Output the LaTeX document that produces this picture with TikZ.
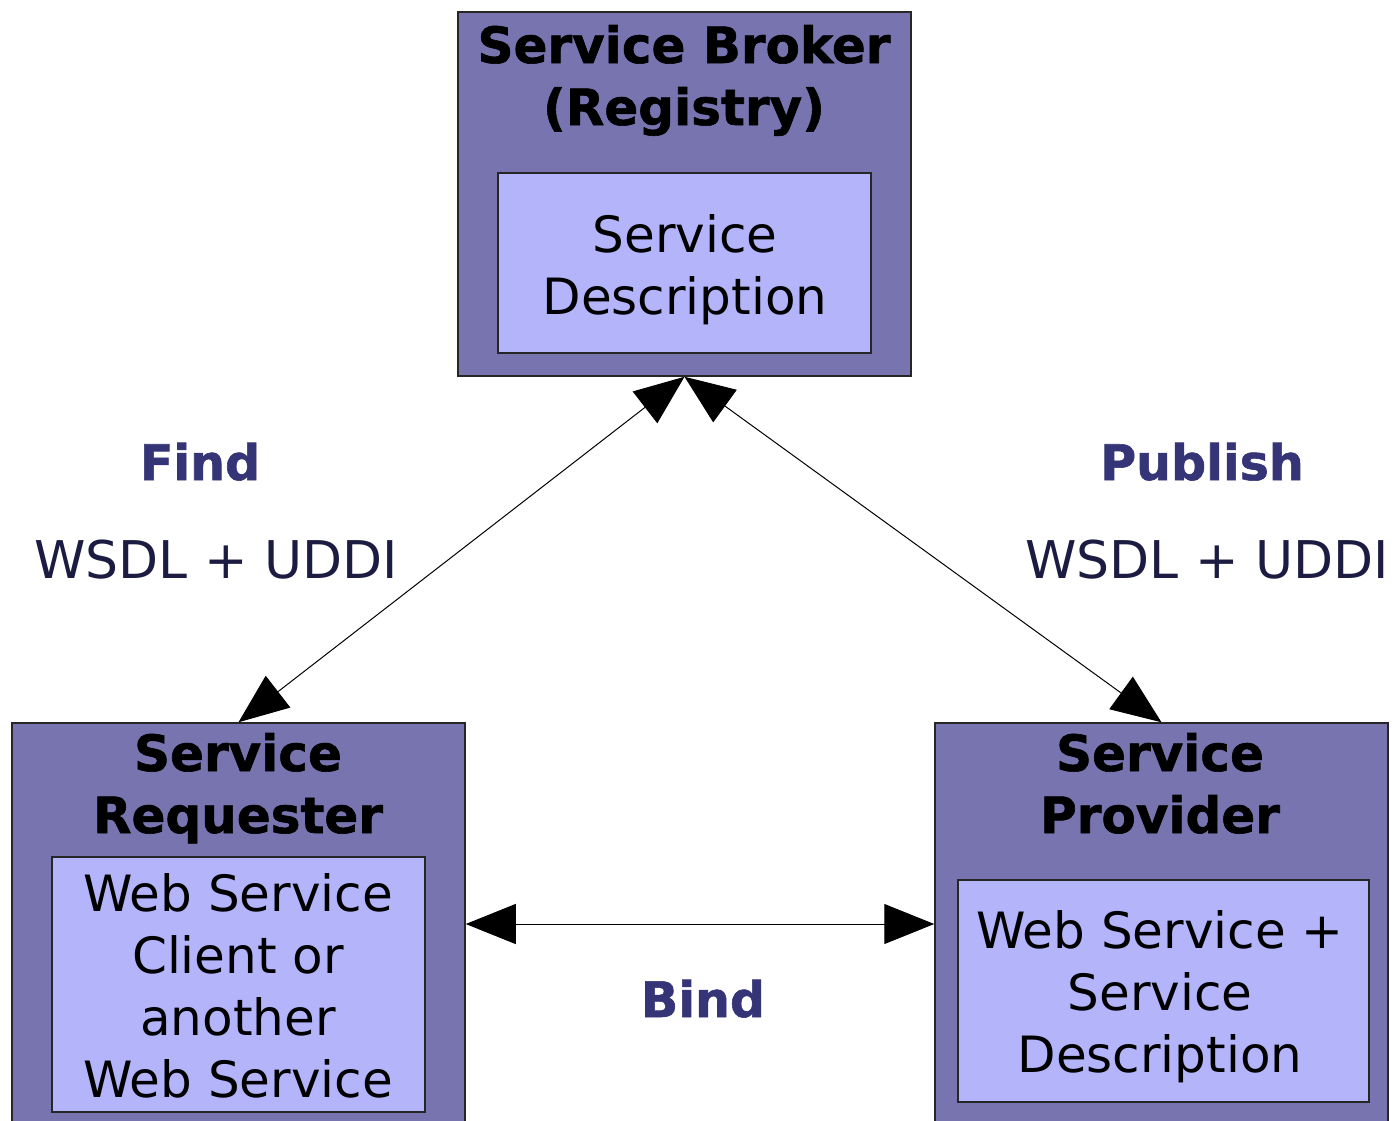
\documentclass[tikz,border=0pt]{standalone}
\usepackage{fontspec}
\setmainfont{DejaVu Sans}[BoldFeatures={FakeBold=1.2}]
\usetikzlibrary{arrows.meta}
\definecolor{outerc}{RGB}{119,116,176}
\definecolor{innerc}{RGB}{180,180,251}
\definecolor{labc}{RGB}{52,52,118}
\definecolor{wsdlc}{RGB}{28,28,66}
\tikzset{
  outerbox/.style={draw=black!85, line width=1.5pt, fill=outerc, inner sep=0pt, rectangle},
  innerbox/.style={draw=black!85, line width=1.5pt, fill=innerc, inner sep=0pt, rectangle},
  title/.style={font=\fontsize{50}{62}\selectfont\bfseries, align=center, anchor=base, inner sep=0pt, text=black},
  body/.style={font=\fontsize{50}{62}\selectfont, align=center, anchor=base, inner sep=0pt, text=black},
  lab/.style={font=\fontsize{49}{62}\selectfont\bfseries, anchor=base, inner sep=0pt, text=labc},
  wsdl/.style={font=\fontsize{52}{62}\selectfont, anchor=base, inner sep=0pt, text=wsdlc},
  conn/.style={{Triangle[length=50pt,width=40pt]}-{Triangle[length=50pt,width=40pt]}, line width=1pt, black}
}
\begin{document}
\begin{tikzpicture}[x=1pt,y=-1pt]
\useasboundingbox (0,0) rectangle (1396,1120);
\clip (0,0) rectangle (1396,1120);
\fill[white] (0,0) rectangle (1396,1120);
% boxes
\node[outerbox, minimum width=453pt, minimum height=364pt] (broker) at (684.5,194) {};
\node[innerbox, minimum width=373pt, minimum height=180pt] (brokerin) at (684.5,263) {};
\node[outerbox, minimum width=453pt, minimum height=402pt] (req) at (238.5,924) {};
\node[innerbox, minimum width=373pt, minimum height=255pt] (reqin) at (238.5,984.5) {};
\node[outerbox, minimum width=453pt, minimum height=402pt] (prov) at (1161.5,924) {};
\node[innerbox, minimum width=411pt, minimum height=222pt] (provin) at (1163.5,991) {};
% texts (anchor base = baseline of last line)
\node[title] (bt) at (684,125) {Service Broker\\(Registry)};
\node[body] (bd) at (685,314) {Service\\Description};
\node[title] (rt) at (238,833) {Service\\Requester};
\node[body] (rd) at (238,1097) {Web Service\\Client or\\another\\Web Service};
\node[title] (pt) at (1160,833) {Service\\Provider};
\node[body] (pd) at (1160,1072) {Web Service +\\Service\\Description};
% connectors
\draw[conn] (broker.south) -- (req.north);
\draw[conn] (broker.south) -- (prov.north);
\draw[conn] (req.east) -- (prov.west);
% labels
\node[lab] (find) at (200,480) {Find};
\node[wsdl] (w1) at (216,578) {WSDL + UDDI};
\node[lab] (pub) at (1202,480) {Publish};
\node[wsdl] (w2) at (1207,578) {WSDL + UDDI};
\node[lab] (bind) at (703,1017) {Bind};
\end{tikzpicture}
\end{document}
